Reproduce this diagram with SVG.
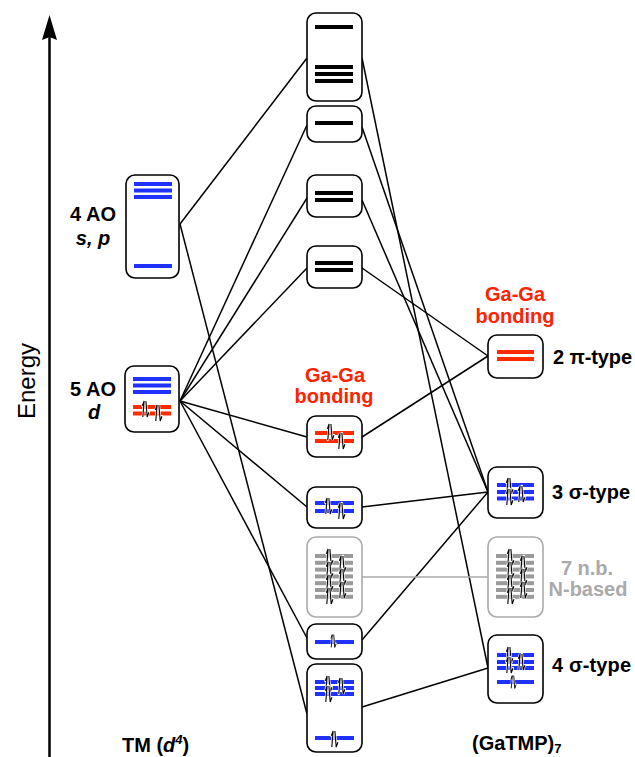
<svg xmlns="http://www.w3.org/2000/svg" xmlns:xlink="http://www.w3.org/1999/xlink" width="635" height="757" viewBox="0 0 635 757">
<style>
.box{fill:#fff;stroke:#000;stroke-width:1.6}
.gbox{fill:#fff;stroke:#aaa;stroke-width:1.6}
.b{fill:#1f32ff}
.r{fill:#ff2a00}
.k{fill:#000}
.g{fill:#9a9a9a}
.lbl{font-family:"Liberation Sans",Arial,Helvetica,sans-serif;font-weight:bold;font-size:20px;fill:#000}
.red{fill:#ff2200}
.gry{fill:#aaa}
.it{font-style:italic}
#connectors line{stroke:#000;stroke-width:1.5}
#connectors line.gl{stroke:#aaa}
</style>
<defs>
<g id="ep">
<path d="M-2.2,8 L-0.9,-8 L-2.6,-3.2 M0.9,-8 L2.2,8 L3.9,3.2" fill="none" stroke="#fff" stroke-width="2.4" stroke-linecap="round"/>
<path d="M-2.2,8 L-0.9,-8 L-2.6,-3.2 M0.9,-8 L2.2,8 L3.9,3.2" fill="none" stroke="#000" stroke-width="1.1"/>
</g>
<g id="nbcontent">
<rect class="gbox" x="307" y="537" width="55" height="80" rx="9"/>
<rect class="g" x="315" y="554" width="38" height="4"/>
<rect class="g" x="315" y="560.8" width="38" height="4"/>
<rect class="g" x="315" y="567.6" width="38" height="4"/>
<rect class="g" x="315" y="574.4" width="38" height="4"/>
<rect class="g" x="315" y="581.2" width="38" height="4"/>
<rect class="g" x="315" y="588" width="38" height="4"/>
<rect class="g" x="315" y="594.8" width="38" height="4"/>
<use xlink:href="#ep" x="329" y="557"/>
<use xlink:href="#ep" x="329" y="570"/>
<use xlink:href="#ep" x="329" y="583"/>
<use xlink:href="#ep" x="329" y="596"/>
<use xlink:href="#ep" x="342" y="564"/>
<use xlink:href="#ep" x="342" y="577"/>
<use xlink:href="#ep" x="342" y="590"/>
</g>
</defs>

<rect width="635" height="757" fill="#fff"/>

<g id="energy-axis">
<line x1="49.5" y1="757" x2="49.5" y2="34" stroke="#000" stroke-width="2.5"/>
<polygon points="49.5,15 57,40 49.5,37 42,40" fill="#000"/>
<text class="lbl" style="font-weight:normal;font-size:24px" transform="translate(35,381) rotate(-90)" text-anchor="middle">Energy</text>
</g>

<g id="connectors">
<line x1="180" y1="224" x2="307" y2="58"/>
<line x1="180" y1="224" x2="307" y2="714"/>
<line x1="180" y1="401" x2="307" y2="125"/>
<line x1="180" y1="401" x2="307" y2="198"/>
<line x1="180" y1="401" x2="307" y2="268"/>
<line x1="180" y1="401" x2="307" y2="437"/>
<line x1="180" y1="401" x2="307" y2="507"/>
<line x1="180" y1="401" x2="307" y2="638"/>
<line x1="362" y1="58" x2="488" y2="668"/>
<line x1="362" y1="127" x2="488" y2="492"/>
<line x1="362" y1="200" x2="488" y2="492"/>
<line x1="362" y1="268" x2="488" y2="356"/>
<line x1="362" y1="437" x2="488" y2="356"/>
<line x1="362" y1="507" x2="488" y2="492"/>
<line x1="362" y1="640" x2="488" y2="492"/>
<line x1="362" y1="707" x2="488" y2="668"/>
<line class="gl" x1="362" y1="577" x2="488" y2="577"/>
</g>

<g id="ao-sp">
<rect class="box" x="126" y="175" width="53" height="103" rx="9"/>
<rect class="b" x="134" y="182" width="38" height="4"/>
<rect class="b" x="134" y="188.5" width="38" height="4"/>
<rect class="b" x="134" y="195" width="38" height="4"/>
<rect class="b" x="134" y="264" width="38" height="4"/>
<text class="lbl" x="93" y="221" text-anchor="middle">4 AO</text>
<text class="lbl it" x="93" y="245" text-anchor="middle">s, p</text>
</g>

<g id="ao-d">
<rect class="box" x="125" y="366" width="54" height="66" rx="9"/>
<rect class="b" x="133" y="377" width="38" height="4"/>
<rect class="b" x="133" y="383.5" width="38" height="4"/>
<rect class="b" x="133" y="390" width="38" height="4"/>
<rect class="r" x="133" y="405" width="38" height="4"/>
<rect class="r" x="133" y="411.5" width="38" height="4"/>
<use xlink:href="#ep" x="145" y="409"/>
<use xlink:href="#ep" x="158" y="413"/>
<text class="lbl" x="93" y="396" text-anchor="middle">5 AO</text>
<text class="lbl it" x="94" y="419" text-anchor="middle">d</text>
</g>

<g id="mo1">
<rect class="box" x="307" y="13" width="55" height="88" rx="9"/>
<rect class="k" x="315" y="25" width="38" height="4"/>
<rect class="k" x="315" y="65" width="38" height="4"/>
<rect class="k" x="315" y="72" width="38" height="4"/>
<rect class="k" x="315" y="79" width="38" height="4"/>
</g>
<g id="mo2">
<rect class="box" x="307" y="106" width="55" height="36" rx="9"/>
<rect class="k" x="315" y="121" width="38" height="4"/>
</g>
<g id="mo3">
<rect class="box" x="307" y="175" width="55" height="42" rx="9"/>
<rect class="k" x="315" y="191" width="38" height="4"/>
<rect class="k" x="315" y="198" width="38" height="4"/>
</g>
<g id="mo4">
<rect class="box" x="307" y="246" width="55" height="42" rx="9"/>
<rect class="k" x="315" y="261" width="38" height="4"/>
<rect class="k" x="315" y="268" width="38" height="4"/>
</g>

<g id="mo-gaga">
<text class="lbl red" x="335" y="382" text-anchor="middle">Ga-Ga</text>
<text class="lbl red" x="334" y="403" text-anchor="middle">bonding</text>
<rect class="box" x="307" y="416" width="55" height="41" rx="9"/>
<rect class="r" x="315" y="431" width="39" height="4"/>
<rect class="r" x="315" y="439" width="39" height="4"/>
<use xlink:href="#ep" x="330" y="432"/>
<use xlink:href="#ep" x="341" y="441"/>
</g>

<g id="mo6">
<rect class="box" x="307" y="487" width="55" height="41" rx="9"/>
<rect class="b" x="315" y="501" width="39" height="4"/>
<rect class="b" x="315" y="509" width="39" height="4"/>
<use xlink:href="#ep" x="328" y="506"/>
<use xlink:href="#ep" x="341" y="511"/>
</g>

<g id="mo-nb">
<use xlink:href="#nbcontent"/>
</g>

<g id="mo8">
<rect class="box" x="307" y="624" width="55" height="35" rx="9"/>
<rect class="b" x="315" y="640" width="39" height="4"/>
<use xlink:href="#ep" transform="translate(333,641) scale(0.8)"/>
</g>

<g id="mo9">
<rect class="box" x="307" y="664" width="55" height="88" rx="9"/>
<rect class="b" x="315" y="680" width="39" height="4"/>
<rect class="b" x="315" y="686" width="39" height="4"/>
<rect class="b" x="315" y="692" width="39" height="4"/>
<rect class="b" x="315" y="736" width="39" height="4"/>
<use xlink:href="#ep" x="328" y="684"/>
<use xlink:href="#ep" x="328" y="694"/>
<use xlink:href="#ep" x="341" y="686"/>
<use xlink:href="#ep" x="334" y="739"/>
</g>

<g id="frag-pi">
<text class="lbl red" x="515" y="301" text-anchor="middle">Ga-Ga</text>
<text class="lbl red" x="515" y="323" text-anchor="middle">bonding</text>
<rect class="box" x="488" y="335" width="55" height="43" rx="9"/>
<rect class="r" x="497" y="350" width="37" height="4"/>
<rect class="r" x="497" y="357" width="37" height="4"/>
<text class="lbl" x="553" y="364" textLength="79" lengthAdjust="spacing">2 π-type</text>
</g>

<g id="frag-3s">
<rect class="box" x="488" y="467" width="55" height="51" rx="9"/>
<rect class="b" x="497" y="483" width="37" height="4"/>
<rect class="b" x="497" y="490" width="37" height="4"/>
<rect class="b" x="497" y="496.5" width="37" height="4"/>
<use xlink:href="#ep" x="509" y="486"/>
<use xlink:href="#ep" x="509" y="497"/>
<use xlink:href="#ep" x="521" y="494"/>
<text class="lbl" x="552" y="499" textLength="78" lengthAdjust="spacing">3 σ-type</text>
</g>

<g id="frag-nb">
<use xlink:href="#nbcontent" transform="translate(181,0)"/>
<text class="lbl gry" x="587" y="575" text-anchor="middle">7 n.b.</text>
<text class="lbl gry" x="588" y="596" text-anchor="middle">N-based</text>
</g>

<g id="frag-4s">
<rect class="box" x="488" y="635" width="55" height="68" rx="9"/>
<rect class="b" x="497" y="653" width="37" height="4"/>
<rect class="b" x="497" y="660" width="37" height="4"/>
<rect class="b" x="497" y="666" width="37" height="4"/>
<rect class="b" x="497" y="680" width="37" height="4"/>
<use xlink:href="#ep" x="509" y="655"/>
<use xlink:href="#ep" x="509" y="665"/>
<use xlink:href="#ep" x="521" y="662"/>
<use xlink:href="#ep" transform="translate(513,682) scale(0.8)"/>
<text class="lbl" x="552" y="672" textLength="79" lengthAdjust="spacing">4 σ-type</text>
</g>

<g id="labels-bottom">
<text class="lbl" x="122" y="752">TM (<tspan class="it">d</tspan><tspan class="it" font-size="13" dy="-8">4</tspan><tspan dy="8">)</tspan></text>
<text class="lbl" x="472" y="750">(GaTMP)<tspan font-size="13" dy="3">7</tspan></text>
</g>
</svg>
